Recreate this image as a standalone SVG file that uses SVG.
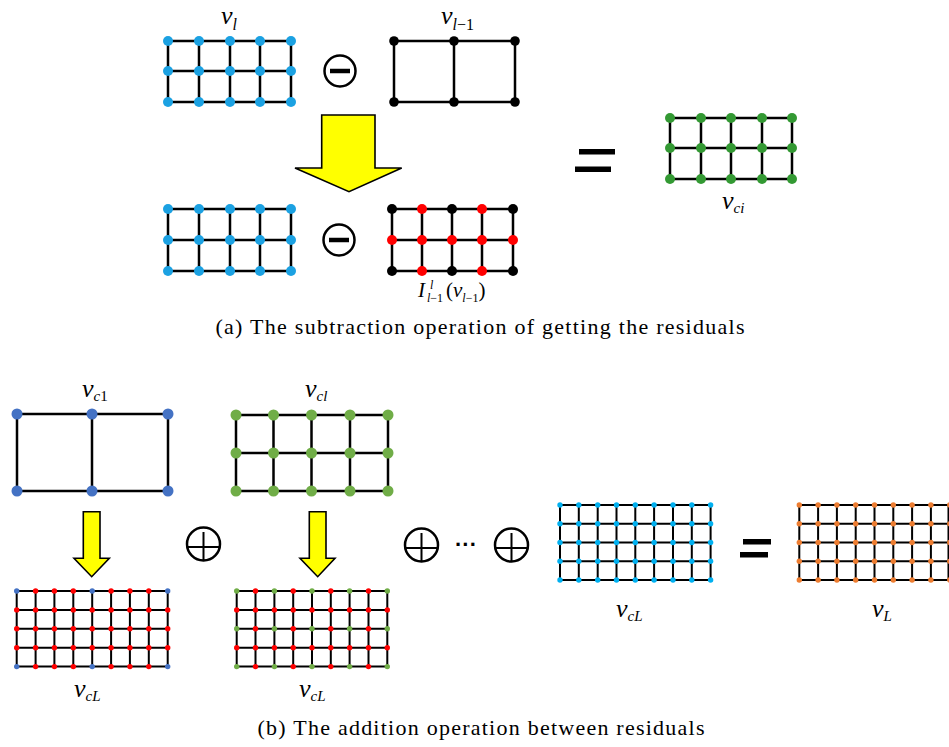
<svg xmlns="http://www.w3.org/2000/svg" width="949" height="747" viewBox="0 0 949 747">
  <style>
    .ln { stroke: #000; stroke-width: 2.5; fill: none; stroke-linecap: square; }
    .lns { stroke: #000; stroke-width: 2; fill: none; }
    .cyan { fill: #1BA1E2; }
    .blk { fill: #000; }
    .red { fill: #FF0000; }
    .grn { fill: #339933; }
    .blue { fill: #4472C4; }
    .lgrn { fill: #70AD47; }
    .sky { fill: #00B0F0; }
    .org { fill: #ED7D31; }
    .arrow { fill: #FFFF00; stroke: #000; stroke-width: 1.6; stroke-linejoin: miter; }
    .op { fill: #fff; stroke: #000; stroke-width: 2.5; }
    .bar { stroke: #000; stroke-width: 4.5; }
    .m { font-style: italic; fill: #000; }
    .up { font-style: normal; }
    .cap { font-size: 22px; fill: #000; }
  </style>

  <!-- (a) subtraction -->
  <g id="grid-vl">
    <path class="ln" d="M168 41H291M168 71H291M168 102H291M168 41V102M199 41V102M230 41V102M260 41V102M291 41V102"/>
    <g class="cyan">
      <circle cx="168" cy="41" r="5"/><circle cx="199" cy="41" r="5"/><circle cx="230" cy="41" r="5"/><circle cx="260" cy="41" r="5"/><circle cx="291" cy="41" r="5"/>
      <circle cx="168" cy="71" r="5"/><circle cx="199" cy="71" r="5"/><circle cx="230" cy="71" r="5"/><circle cx="260" cy="71" r="5"/><circle cx="291" cy="71" r="5"/>
      <circle cx="168" cy="102" r="5"/><circle cx="199" cy="102" r="5"/><circle cx="230" cy="102" r="5"/><circle cx="260" cy="102" r="5"/><circle cx="291" cy="102" r="5"/>
    </g>
    <text class="m" font-family="Liberation Serif, Times New Roman, serif" x="221" y="24" font-size="26">v<tspan font-size="16" y="30">l</tspan></text>
  </g>

  <g id="minus-top">
    <circle class="op" cx="340" cy="71" r="15.5"/>
    <line class="bar" x1="330" y1="71" x2="350" y2="71"/>
  </g>

  <g id="grid-vl-1">
    <path class="ln" d="M394 41H515M394 102H515M394 41V102M454 41V102M515 41V102"/>
    <g class="blk">
      <circle cx="394" cy="41" r="4.8"/><circle cx="454" cy="41" r="4.8"/><circle cx="515" cy="41" r="4.8"/>
      <circle cx="394" cy="102" r="4.8"/><circle cx="454" cy="102" r="4.8"/><circle cx="515" cy="102" r="4.8"/>
    </g>
    <text class="m" font-family="Liberation Serif, Times New Roman, serif" x="441" y="24" font-size="26">v<tspan font-size="16" y="30">l<tspan class="up">−1</tspan></tspan></text>
  </g>

  <g id="arrow-top">
    <polygon class="arrow" points="321.7,115 375,115 375,168 401.7,168 349,191.7 295,168 321.7,168"/>
  </g>

  <g id="grid-vl-row2">
    <path class="ln" d="M168 209H291M168 240H291M168 271H291M168 209V271M199 209V271M230 209V271M260 209V271M291 209V271"/>
    <g class="cyan">
      <circle cx="168" cy="209" r="5"/><circle cx="199" cy="209" r="5"/><circle cx="230" cy="209" r="5"/><circle cx="260" cy="209" r="5"/><circle cx="291" cy="209" r="5"/>
      <circle cx="168" cy="240" r="5"/><circle cx="199" cy="240" r="5"/><circle cx="230" cy="240" r="5"/><circle cx="260" cy="240" r="5"/><circle cx="291" cy="240" r="5"/>
      <circle cx="168" cy="271" r="5"/><circle cx="199" cy="271" r="5"/><circle cx="230" cy="271" r="5"/><circle cx="260" cy="271" r="5"/><circle cx="291" cy="271" r="5"/>
    </g>
  </g>

  <g id="minus-bottom">
    <circle class="op" cx="339" cy="240" r="15.5"/>
    <line class="bar" x1="329" y1="240" x2="349" y2="240"/>
  </g>

  <g id="grid-interp">
    <path class="ln" d="M392 209H513M392 240H513M392 271H513M392 209V271M422 209V271M452 209V271M482 209V271M513 209V271"/>
    <g class="blk">
      <circle cx="392" cy="209" r="5"/><circle cx="452" cy="209" r="5"/><circle cx="513" cy="209" r="5"/>
      <circle cx="392" cy="271" r="5"/><circle cx="452" cy="271" r="5"/><circle cx="513" cy="271" r="5"/>
    </g>
    <g class="red">
      <circle cx="422" cy="209" r="5"/><circle cx="482" cy="209" r="5"/>
      <circle cx="392" cy="240" r="5"/><circle cx="422" cy="240" r="5"/><circle cx="452" cy="240" r="5"/><circle cx="482" cy="240" r="5"/><circle cx="513" cy="240" r="5"/>
      <circle cx="422" cy="271" r="5"/><circle cx="482" cy="271" r="5"/>
    </g>
    <g font-family="Liberation Serif, Times New Roman, serif">
      <text class="m" x="418" y="297" font-size="21">I</text>
      <text class="m" x="430" y="289" font-size="12">l</text>
      <text class="m" x="427" y="302" font-size="12">l<tspan class="up">−1</tspan></text>
      <text class="m" x="446" y="297" font-size="21"><tspan class="up">(</tspan>v<tspan font-size="12" y="302">l<tspan class="up">−1</tspan></tspan><tspan class="up" y="297">)</tspan></text>
    </g>
  </g>

  <g id="equals-top">
    <rect x="579" y="149" width="36" height="5.5"/>
    <rect x="575" y="166.5" width="36" height="5.5"/>
  </g>

  <g id="grid-vci">
    <path class="ln" d="M670 118H792M670 148H792M670 179H792M670 118V179M701 118V179M731 118V179M762 118V179M792 118V179"/>
    <g class="grn">
      <circle cx="670" cy="118" r="5"/><circle cx="701" cy="118" r="5"/><circle cx="731" cy="118" r="5"/><circle cx="762" cy="118" r="5"/><circle cx="792" cy="118" r="5"/>
      <circle cx="670" cy="148" r="5"/><circle cx="701" cy="148" r="5"/><circle cx="731" cy="148" r="5"/><circle cx="762" cy="148" r="5"/><circle cx="792" cy="148" r="5"/>
      <circle cx="670" cy="179" r="5"/><circle cx="701" cy="179" r="5"/><circle cx="731" cy="179" r="5"/><circle cx="762" cy="179" r="5"/><circle cx="792" cy="179" r="5"/>
    </g>
    <text class="m" font-family="Liberation Serif, Times New Roman, serif" x="722" y="209" font-size="26">v<tspan font-size="15" y="213">ci</tspan></text>
  </g>

  <text class="cap" font-family="Liberation Serif, Times New Roman, serif" x="480" y="334" text-anchor="middle" textLength="529" lengthAdjust="spacing">(a) The subtraction operation of getting the residuals</text>

  <!-- (b) addition -->
  <g id="grid-vc1">
    <path class="ln" d="M17 414H168M17 491H168M17 414V491M92 414V491M168 414V491"/>
    <g class="blue">
      <circle cx="17" cy="414" r="5.5"/><circle cx="92" cy="414" r="5.5"/><circle cx="168" cy="414" r="5.5"/>
      <circle cx="17" cy="491" r="5.5"/><circle cx="92" cy="491" r="5.5"/><circle cx="168" cy="491" r="5.5"/>
    </g>
    <text class="m" font-family="Liberation Serif, Times New Roman, serif" x="82" y="397" font-size="26">v<tspan font-size="15" y="401">c<tspan class="up">1</tspan></tspan></text>
  </g>

  <g id="grid-vcl">
    <path class="ln" d="M236 415H388M236 453H388M236 491H388M236 415V491M273.5 415V491M311.5 415V491M350 415V491M388 415V491"/>
    <g class="lgrn">
      <circle cx="236" cy="415" r="5.5"/><circle cx="273.5" cy="415" r="5.5"/><circle cx="311.5" cy="415" r="5.5"/><circle cx="350" cy="415" r="5.5"/><circle cx="388" cy="415" r="5.5"/>
      <circle cx="236" cy="453" r="5.5"/><circle cx="273.5" cy="453" r="5.5"/><circle cx="311.5" cy="453" r="5.5"/><circle cx="350" cy="453" r="5.5"/><circle cx="388" cy="453" r="5.5"/>
      <circle cx="236" cy="491" r="5.5"/><circle cx="273.5" cy="491" r="5.5"/><circle cx="311.5" cy="491" r="5.5"/><circle cx="350" cy="491" r="5.5"/><circle cx="388" cy="491" r="5.5"/>
    </g>
    <text class="m" font-family="Liberation Serif, Times New Roman, serif" x="305" y="397" font-size="26">v<tspan font-size="15" y="401">cl</tspan></text>
  </g>

  <g id="arrow-1">
    <polygon class="arrow" points="83.3,511.7 100,511.7 100,558.3 109.3,558.3 91.7,576.7 74,558.3 83.3,558.3"/>
  </g>
  <g id="arrow-2">
    <polygon class="arrow" points="309.3,511.7 326,511.7 326,558.3 335,558.3 317.7,576.7 300,558.3 309.3,558.3"/>
  </g>

  <g id="plus-1">
    <circle class="op" cx="203.5" cy="544" r="16.5"/>
    <path class="lns" stroke-width="3.2" d="M187.5 547H219.5M203.5 532V560.5"/>
  </g>
  <g id="plus-2">
    <circle class="op" cx="421.5" cy="545" r="16.5"/>
    <path class="lns" stroke-width="3.2" d="M405.5 548H437.5M421.5 533V561.5"/>
  </g>
  <text id="ellipsis" x="466" y="552" text-anchor="middle" font-family="Liberation Sans, Arial, sans-serif" font-size="22" font-weight="bold">···</text>
  <g id="plus-3">
    <circle class="op" cx="511.5" cy="545" r="16.5"/>
    <path class="lns" stroke-width="3.2" d="M495.5 548H527.5M511.5 533V561.5"/>
  </g>

  <!-- fine 9x5 grids -->
  <g id="grid-vcL-1">
    <path class="lns" d="M16.7 591H167.7M16.7 609.9H167.7M16.7 628.8H167.7M16.7 647.7H167.7M16.7 666.6H167.7M16.7 591V666.6M35.6 591V666.6M54.4 591V666.6M73.3 591V666.6M92.2 591V666.6M111.1 591V666.6M129.9 591V666.6M148.8 591V666.6M167.7 591V666.6"/>
    <g class="red">
      <circle cx="35.6" cy="591" r="2.7"/><circle cx="54.4" cy="591" r="2.7"/><circle cx="73.3" cy="591" r="2.7"/><circle cx="111.1" cy="591" r="2.7"/><circle cx="129.9" cy="591" r="2.7"/><circle cx="148.8" cy="591" r="2.7"/>
      <circle cx="16.7" cy="609.9" r="2.7"/><circle cx="35.6" cy="609.9" r="2.7"/><circle cx="54.4" cy="609.9" r="2.7"/><circle cx="73.3" cy="609.9" r="2.7"/><circle cx="92.2" cy="609.9" r="2.7"/><circle cx="111.1" cy="609.9" r="2.7"/><circle cx="129.9" cy="609.9" r="2.7"/><circle cx="148.8" cy="609.9" r="2.7"/><circle cx="167.7" cy="609.9" r="2.7"/>
      <circle cx="16.7" cy="628.8" r="2.7"/><circle cx="35.6" cy="628.8" r="2.7"/><circle cx="54.4" cy="628.8" r="2.7"/><circle cx="73.3" cy="628.8" r="2.7"/><circle cx="92.2" cy="628.8" r="2.7"/><circle cx="111.1" cy="628.8" r="2.7"/><circle cx="129.9" cy="628.8" r="2.7"/><circle cx="148.8" cy="628.8" r="2.7"/><circle cx="167.7" cy="628.8" r="2.7"/>
      <circle cx="16.7" cy="647.7" r="2.7"/><circle cx="35.6" cy="647.7" r="2.7"/><circle cx="54.4" cy="647.7" r="2.7"/><circle cx="73.3" cy="647.7" r="2.7"/><circle cx="92.2" cy="647.7" r="2.7"/><circle cx="111.1" cy="647.7" r="2.7"/><circle cx="129.9" cy="647.7" r="2.7"/><circle cx="148.8" cy="647.7" r="2.7"/><circle cx="167.7" cy="647.7" r="2.7"/>
      <circle cx="35.6" cy="666.6" r="2.7"/><circle cx="54.4" cy="666.6" r="2.7"/><circle cx="73.3" cy="666.6" r="2.7"/><circle cx="111.1" cy="666.6" r="2.7"/><circle cx="129.9" cy="666.6" r="2.7"/><circle cx="148.8" cy="666.6" r="2.7"/>
    </g>
    <g class="blue">
      <circle cx="16.7" cy="591" r="2.7"/><circle cx="92.2" cy="591" r="2.7"/><circle cx="167.7" cy="591" r="2.7"/>
      <circle cx="16.7" cy="666.6" r="2.7"/><circle cx="92.2" cy="666.6" r="2.7"/><circle cx="167.7" cy="666.6" r="2.7"/>
    </g>
    <text class="m" font-family="Liberation Serif, Times New Roman, serif" x="74" y="697" font-size="26">v<tspan font-size="15" y="701">cL</tspan></text>
  </g>

  <g id="grid-vcL-2">
    <path class="lns" d="M236.7 591H387.3M236.7 609.9H387.3M236.7 628.8H387.3M236.7 647.7H387.3M236.7 666.6H387.3M236.7 591V666.6M255.5 591V666.6M274.4 591V666.6M293.2 591V666.6M312 591V666.6M330.8 591V666.6M349.6 591V666.6M368.5 591V666.6M387.3 591V666.6"/>
    <g class="red">
      <circle cx="255.5" cy="591" r="2.7"/><circle cx="293.2" cy="591" r="2.7"/><circle cx="330.8" cy="591" r="2.7"/><circle cx="368.5" cy="591" r="2.7"/>
      <circle cx="236.7" cy="609.9" r="2.7"/><circle cx="255.5" cy="609.9" r="2.7"/><circle cx="274.4" cy="609.9" r="2.7"/><circle cx="293.2" cy="609.9" r="2.7"/><circle cx="312" cy="609.9" r="2.7"/><circle cx="330.8" cy="609.9" r="2.7"/><circle cx="349.6" cy="609.9" r="2.7"/><circle cx="368.5" cy="609.9" r="2.7"/><circle cx="387.3" cy="609.9" r="2.7"/>
      <circle cx="255.5" cy="628.8" r="2.7"/><circle cx="293.2" cy="628.8" r="2.7"/><circle cx="330.8" cy="628.8" r="2.7"/><circle cx="368.5" cy="628.8" r="2.7"/>
      <circle cx="236.7" cy="647.7" r="2.7"/><circle cx="255.5" cy="647.7" r="2.7"/><circle cx="274.4" cy="647.7" r="2.7"/><circle cx="293.2" cy="647.7" r="2.7"/><circle cx="312" cy="647.7" r="2.7"/><circle cx="330.8" cy="647.7" r="2.7"/><circle cx="349.6" cy="647.7" r="2.7"/><circle cx="368.5" cy="647.7" r="2.7"/><circle cx="387.3" cy="647.7" r="2.7"/>
      <circle cx="255.5" cy="666.6" r="2.7"/><circle cx="293.2" cy="666.6" r="2.7"/><circle cx="330.8" cy="666.6" r="2.7"/><circle cx="368.5" cy="666.6" r="2.7"/>
    </g>
    <g class="lgrn">
      <circle cx="236.7" cy="591" r="2.7"/><circle cx="274.4" cy="591" r="2.7"/><circle cx="312" cy="591" r="2.7"/><circle cx="349.6" cy="591" r="2.7"/><circle cx="387.3" cy="591" r="2.7"/>
      <circle cx="236.7" cy="628.8" r="2.7"/><circle cx="274.4" cy="628.8" r="2.7"/><circle cx="312" cy="628.8" r="2.7"/><circle cx="349.6" cy="628.8" r="2.7"/><circle cx="387.3" cy="628.8" r="2.7"/>
      <circle cx="236.7" cy="666.6" r="2.7"/><circle cx="274.4" cy="666.6" r="2.7"/><circle cx="312" cy="666.6" r="2.7"/><circle cx="349.6" cy="666.6" r="2.7"/><circle cx="387.3" cy="666.6" r="2.7"/>
    </g>
    <text class="m" font-family="Liberation Serif, Times New Roman, serif" x="299" y="697" font-size="26">v<tspan font-size="15" y="701">cL</tspan></text>
  </g>

  <g id="grid-vcL-3">
    <path class="lns" d="M560 505H710.6M560 523.8H710.6M560 542.5H710.6M560 561.3H710.6M560 580H710.6M560 505V580M578.8 505V580M597.7 505V580M616.5 505V580M635.3 505V580M654.1 505V580M673 505V580M691.8 505V580M710.6 505V580"/>
    <g class="sky">
      <circle cx="560" cy="505" r="2.7"/><circle cx="578.8" cy="505" r="2.7"/><circle cx="597.7" cy="505" r="2.7"/><circle cx="616.5" cy="505" r="2.7"/><circle cx="635.3" cy="505" r="2.7"/><circle cx="654.1" cy="505" r="2.7"/><circle cx="673" cy="505" r="2.7"/><circle cx="691.8" cy="505" r="2.7"/><circle cx="710.6" cy="505" r="2.7"/>
      <circle cx="560" cy="523.8" r="2.7"/><circle cx="578.8" cy="523.8" r="2.7"/><circle cx="597.7" cy="523.8" r="2.7"/><circle cx="616.5" cy="523.8" r="2.7"/><circle cx="635.3" cy="523.8" r="2.7"/><circle cx="654.1" cy="523.8" r="2.7"/><circle cx="673" cy="523.8" r="2.7"/><circle cx="691.8" cy="523.8" r="2.7"/><circle cx="710.6" cy="523.8" r="2.7"/>
      <circle cx="560" cy="542.5" r="2.7"/><circle cx="578.8" cy="542.5" r="2.7"/><circle cx="597.7" cy="542.5" r="2.7"/><circle cx="616.5" cy="542.5" r="2.7"/><circle cx="635.3" cy="542.5" r="2.7"/><circle cx="654.1" cy="542.5" r="2.7"/><circle cx="673" cy="542.5" r="2.7"/><circle cx="691.8" cy="542.5" r="2.7"/><circle cx="710.6" cy="542.5" r="2.7"/>
      <circle cx="560" cy="561.3" r="2.7"/><circle cx="578.8" cy="561.3" r="2.7"/><circle cx="597.7" cy="561.3" r="2.7"/><circle cx="616.5" cy="561.3" r="2.7"/><circle cx="635.3" cy="561.3" r="2.7"/><circle cx="654.1" cy="561.3" r="2.7"/><circle cx="673" cy="561.3" r="2.7"/><circle cx="691.8" cy="561.3" r="2.7"/><circle cx="710.6" cy="561.3" r="2.7"/>
      <circle cx="560" cy="580" r="2.7"/><circle cx="578.8" cy="580" r="2.7"/><circle cx="597.7" cy="580" r="2.7"/><circle cx="616.5" cy="580" r="2.7"/><circle cx="635.3" cy="580" r="2.7"/><circle cx="654.1" cy="580" r="2.7"/><circle cx="673" cy="580" r="2.7"/><circle cx="691.8" cy="580" r="2.7"/><circle cx="710.6" cy="580" r="2.7"/>
    </g>
    <text class="m" font-family="Liberation Serif, Times New Roman, serif" x="616" y="617" font-size="26">v<tspan font-size="15" y="621">cL</tspan></text>
  </g>

  <g id="equals-bottom">
    <rect x="743" y="539" width="28" height="5.5"/>
    <rect x="740" y="552" width="28" height="5.5"/>
  </g>

  <g id="grid-vL">
    <path class="lns" d="M799.3 505H949.7M799.3 523.8H949.7M799.3 542.5H949.7M799.3 561.3H949.7M799.3 580H949.7M799.3 505V580M818.1 505V580M836.9 505V580M855.7 505V580M874.5 505V580M893.3 505V580M912.1 505V580M930.9 505V580M948.5 505V580"/>
    <g class="org">
      <circle cx="799.3" cy="505" r="2.7"/><circle cx="818.1" cy="505" r="2.7"/><circle cx="836.9" cy="505" r="2.7"/><circle cx="855.7" cy="505" r="2.7"/><circle cx="874.5" cy="505" r="2.7"/><circle cx="893.3" cy="505" r="2.7"/><circle cx="912.1" cy="505" r="2.7"/><circle cx="930.9" cy="505" r="2.7"/><circle cx="949.7" cy="505" r="2.7"/>
      <circle cx="799.3" cy="523.8" r="2.7"/><circle cx="818.1" cy="523.8" r="2.7"/><circle cx="836.9" cy="523.8" r="2.7"/><circle cx="855.7" cy="523.8" r="2.7"/><circle cx="874.5" cy="523.8" r="2.7"/><circle cx="893.3" cy="523.8" r="2.7"/><circle cx="912.1" cy="523.8" r="2.7"/><circle cx="930.9" cy="523.8" r="2.7"/><circle cx="949.7" cy="523.8" r="2.7"/>
      <circle cx="799.3" cy="542.5" r="2.7"/><circle cx="818.1" cy="542.5" r="2.7"/><circle cx="836.9" cy="542.5" r="2.7"/><circle cx="855.7" cy="542.5" r="2.7"/><circle cx="874.5" cy="542.5" r="2.7"/><circle cx="893.3" cy="542.5" r="2.7"/><circle cx="912.1" cy="542.5" r="2.7"/><circle cx="930.9" cy="542.5" r="2.7"/><circle cx="949.7" cy="542.5" r="2.7"/>
      <circle cx="799.3" cy="561.3" r="2.7"/><circle cx="818.1" cy="561.3" r="2.7"/><circle cx="836.9" cy="561.3" r="2.7"/><circle cx="855.7" cy="561.3" r="2.7"/><circle cx="874.5" cy="561.3" r="2.7"/><circle cx="893.3" cy="561.3" r="2.7"/><circle cx="912.1" cy="561.3" r="2.7"/><circle cx="930.9" cy="561.3" r="2.7"/><circle cx="949.7" cy="561.3" r="2.7"/>
      <circle cx="799.3" cy="580" r="2.7"/><circle cx="818.1" cy="580" r="2.7"/><circle cx="836.9" cy="580" r="2.7"/><circle cx="855.7" cy="580" r="2.7"/><circle cx="874.5" cy="580" r="2.7"/><circle cx="893.3" cy="580" r="2.7"/><circle cx="912.1" cy="580" r="2.7"/><circle cx="930.9" cy="580" r="2.7"/><circle cx="949.7" cy="580" r="2.7"/>
    </g>
    <text class="m" font-family="Liberation Serif, Times New Roman, serif" x="872" y="617" font-size="26">v<tspan font-size="15" y="621">L</tspan></text>
  </g>

  <text class="cap" font-family="Liberation Serif, Times New Roman, serif" x="481" y="735" text-anchor="middle" textLength="447" lengthAdjust="spacing">(b) The addition operation between residuals</text>
</svg>
